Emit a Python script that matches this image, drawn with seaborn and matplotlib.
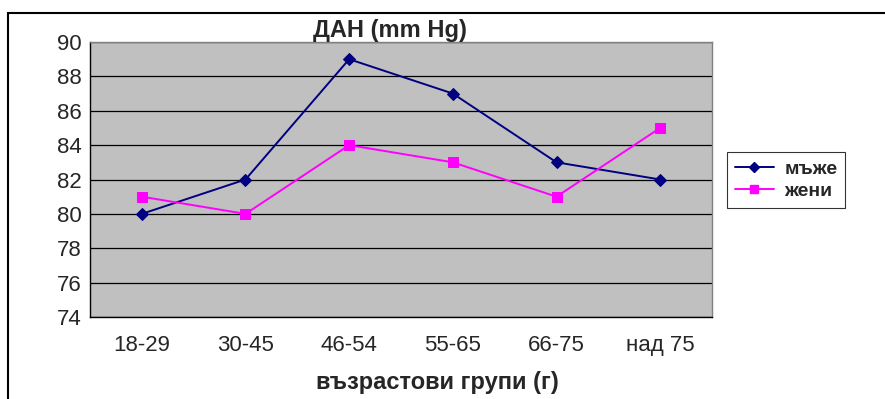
import matplotlib
matplotlib.use("Agg")
import matplotlib.pyplot as plt
import matplotlib.transforms as mtransforms
import seaborn as sns
import pandas as pd
from matplotlib.lines import Line2D

groups = ["18-29", "30-45", "46-54", "55-65", "66-75", "над 75"]
men = [80, 82, 89, 87, 83, 82]
women = [81, 80, 84, 83, 81, 85]
series_names = ["мъже", "жени"]
y_ticks = [74, 76, 78, 80, 82, 84, 86, 88, 90]

sns.set_style("white")
plt.rcParams["font.family"] = ["Liberation Sans", "DejaVu Sans"]

df = pd.DataFrame({
    "group": groups * 2,
    "pos": list(range(len(groups))) * 2,
    "value": men + women,
    "series": [series_names[0]] * len(groups) + [series_names[1]] * len(groups),
})

W, H = 885, 399
left, right, top, bottom = 90, 712, 42, 317
fig = plt.figure(figsize=(W / 100, H / 100), dpi=100)
ax = fig.add_axes([left / W, 1 - bottom / H, (right - left) / W, (bottom - top) / H])
ax.set_facecolor("#C0C0C0")

palette = {series_names[0]: "#000080", series_names[1]: "#FF00FF"}
markers = {series_names[0]: "D", series_names[1]: "s"}
sizes = {series_names[0]: 6, series_names[1]: 7}
for name in series_names:
    sub = df[df["series"] == name]
    sns.lineplot(data=sub, x="pos", y="value", ax=ax, color=palette[name],
                 marker=markers[name], markersize=sizes[name],
                 markeredgecolor=palette[name], linewidth=1.4, legend=False)

ax.set_xlim(-0.5, len(groups) - 0.5)
ax.set_ylim(74, 90)
ax.set_yticks(y_ticks)
ax.set_yticklabels([str(t) for t in y_ticks], fontsize=16)
ax.yaxis.grid(True, color="#000000", linewidth=0.9)
ax.set_axisbelow(True)

ax.set_xticks(range(len(groups)))
ax.set_xticklabels(groups, fontsize=16)
shift = mtransforms.ScaledTranslation(10 / 100, 0, fig.dpi_scale_trans)
for lab in ax.get_xticklabels():
    lab.set_transform(lab.get_transform() + shift)
ax.set_xticks([i - 0.5 for i in range(len(groups) + 1)], minor=True)
ax.tick_params(axis="x", which="major", length=0, pad=13)
ax.tick_params(axis="x", which="minor", length=5, width=1, color="black", direction="out")
ax.tick_params(axis="y", length=5, width=1, color="black", direction="out", pad=1)
ax.set_xlabel("възрастови групи (г)", fontsize=17, fontweight="bold", va="center")
ax.xaxis.set_label_coords((437 - left) / (right - left), (bottom - 382) / (bottom - top))
ax.set_ylabel("")

for side in ["top", "right"]:
    ax.spines[side].set_color("#808080")
    ax.spines[side].set_linewidth(1.0)
for side in ["left", "bottom"]:
    ax.spines[side].set_color("#000000")
    ax.spines[side].set_linewidth(1.0)

fig.text(390 / W, 1 - 31 / H, "ДАН (mm Hg)", fontsize=17, fontweight="bold",
         ha="center", va="center")

handles = [Line2D([0], [0], color=palette[n], marker=markers[n], markersize=sizes[n] - 1,
                  linewidth=1.4) for n in series_names]
leg = fig.legend(handles, series_names, loc="center left",
                 bbox_to_anchor=(727 / W, 1 - 180 / H), frameon=True,
                 fancybox=False, edgecolor="black",
                 prop={"weight": "bold", "size": 14}, handlelength=2.0,
                 borderpad=0.4, labelspacing=0.22, handletextpad=0.55,
                 borderaxespad=0)
leg.get_frame().set_linewidth(0.8)

# outer chart frame
frame = plt.Rectangle((8 / W, -0.05), 1.05, 1 - 13 / H + 0.05, transform=fig.transFigure,
                      fill=False, edgecolor="black", linewidth=1.5)
fig.patches.append(frame)

fig.savefig("out.png", dpi=100)
